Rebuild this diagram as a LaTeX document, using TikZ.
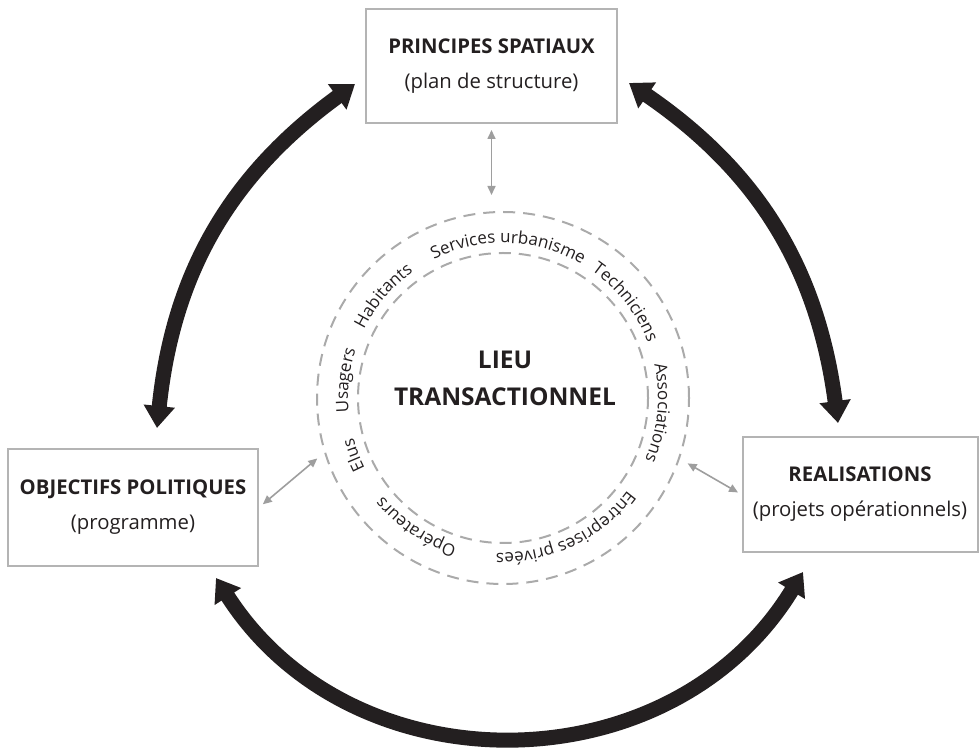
\documentclass[tikz,border=0pt]{standalone}
\usepackage{fontspec}
\setmainfont{Open Sans}
\usetikzlibrary{arrows.meta,decorations.text}

\definecolor{ink}{HTML}{231F20}
\definecolor{framegray}{HTML}{B4B4B4}
\definecolor{dashgray}{HTML}{AAAAAA}
\definecolor{linkgray}{HTML}{9E9E9E}
\newcommand\ringfont{\fontsize{17}{20}\selectfont}

\tikzset{
  pole/.style={draw=framegray, line width=2pt, text=ink, align=center, font=\fontsize{20.3}{35}\selectfont},
  dashring/.style={circle, draw=dashgray, line width=2pt, dash pattern=on 12pt off 8pt},
  link/.style={linkgray, line width=1.6pt, >={Triangle[length=9pt,width=8pt]}, <->},
  loopflow/.style={ink, line width=15pt, >={Triangle[length=22pt,width=30pt]}, <->},
  actor/.style={decorate, decoration={text along path, text align=center, text={|\ringfont\color{ink}|#1}}}
}

\begin{document}
\begin{tikzpicture}[x=1pt,y=1pt]
  \useasboundingbox (0,0) rectangle (979,747);
  % the three poles
  \node[pole, minimum width=251, minimum height=114] (plan) at (491.5,681) {\textbf{PRINCIPES SPATIAUX}\\(plan de structure)};
  \node[pole, minimum width=250, minimum height=117] (goals) at (133,239.5) {\textbf{OBJECTIFS POLITIQUES}\\(programme)};
  \node[pole, minimum width=235, minimum height=115] (works) at (860,252.5) {\textbf{REALISATIONS}\\(projets opérationnels)};
  % lieu transactionnel
  \node[dashring, minimum size=372] (ring) at (503,349) {};
  \node[dashring, minimum size=290] (core) at (503,349) {};
  \node[text=ink, align=center, font=\bfseries\fontsize{24.5}{37}\selectfont] (lieu) at (505,369) {LIEU\\TRANSACTIONNEL};
  \path[actor={Services urbanisme}] ([shift={(133:155)}]core.center) arc[start angle=133, end angle=43, radius=155];
  \path[actor={Techniciens}] ([shift={(83:155)}]core.center) arc[start angle=83, end angle=-7, radius=155];
  \path[actor={Associations}] ([shift={(39.5:155)}]core.center) arc[start angle=39.5, end angle=-50.5, radius=155];
  \path[actor={Entreprises privées}] ([shift={(-19.5:155)}]core.center) arc[start angle=-19.5, end angle=-109.5, radius=155];
  \path[actor={Opérateurs}] ([shift={(-79:155)}]core.center) arc[start angle=-79, end angle=-169, radius=155];
  \path[actor={Elus}] ([shift={(246:155)}]core.center) arc[start angle=246, end angle=156, radius=155];
  \path[actor={Usagers}] ([shift={(218.5:155)}]core.center) arc[start angle=218.5, end angle=128.5, radius=155];
  \path[actor={Habitants}] ([shift={(184.5:155)}]core.center) arc[start angle=184.5, end angle=94.5, radius=155];
  % grey links
  \draw[link, shorten <=6pt, shorten >=16pt] (plan.south) -- (plan.south |- ring.north);
  \draw[link, shorten <=5pt, shorten >=9pt] (goals.east) -- (ring.197);
  \draw[link, shorten <=4pt, shorten >=9pt] (works.west) -- (ring.-19);
  % big cycle
  \coordinate (a1) at (157,319); \coordinate (a2) at (355,663);
  \coordinate (b1) at (629,664); \coordinate (b2) at (838,324);
  \coordinate (c1) at (216,169); \coordinate (c2) at (803,175);
  \draw[loopflow] (a1) to[bend left=24] (a2);
  \draw[loopflow] (b1) to[bend left=24] (b2);
  \draw[loopflow] (c1) to[bend right=58, looseness=1.1] (c2);
\end{tikzpicture}
\end{document}
